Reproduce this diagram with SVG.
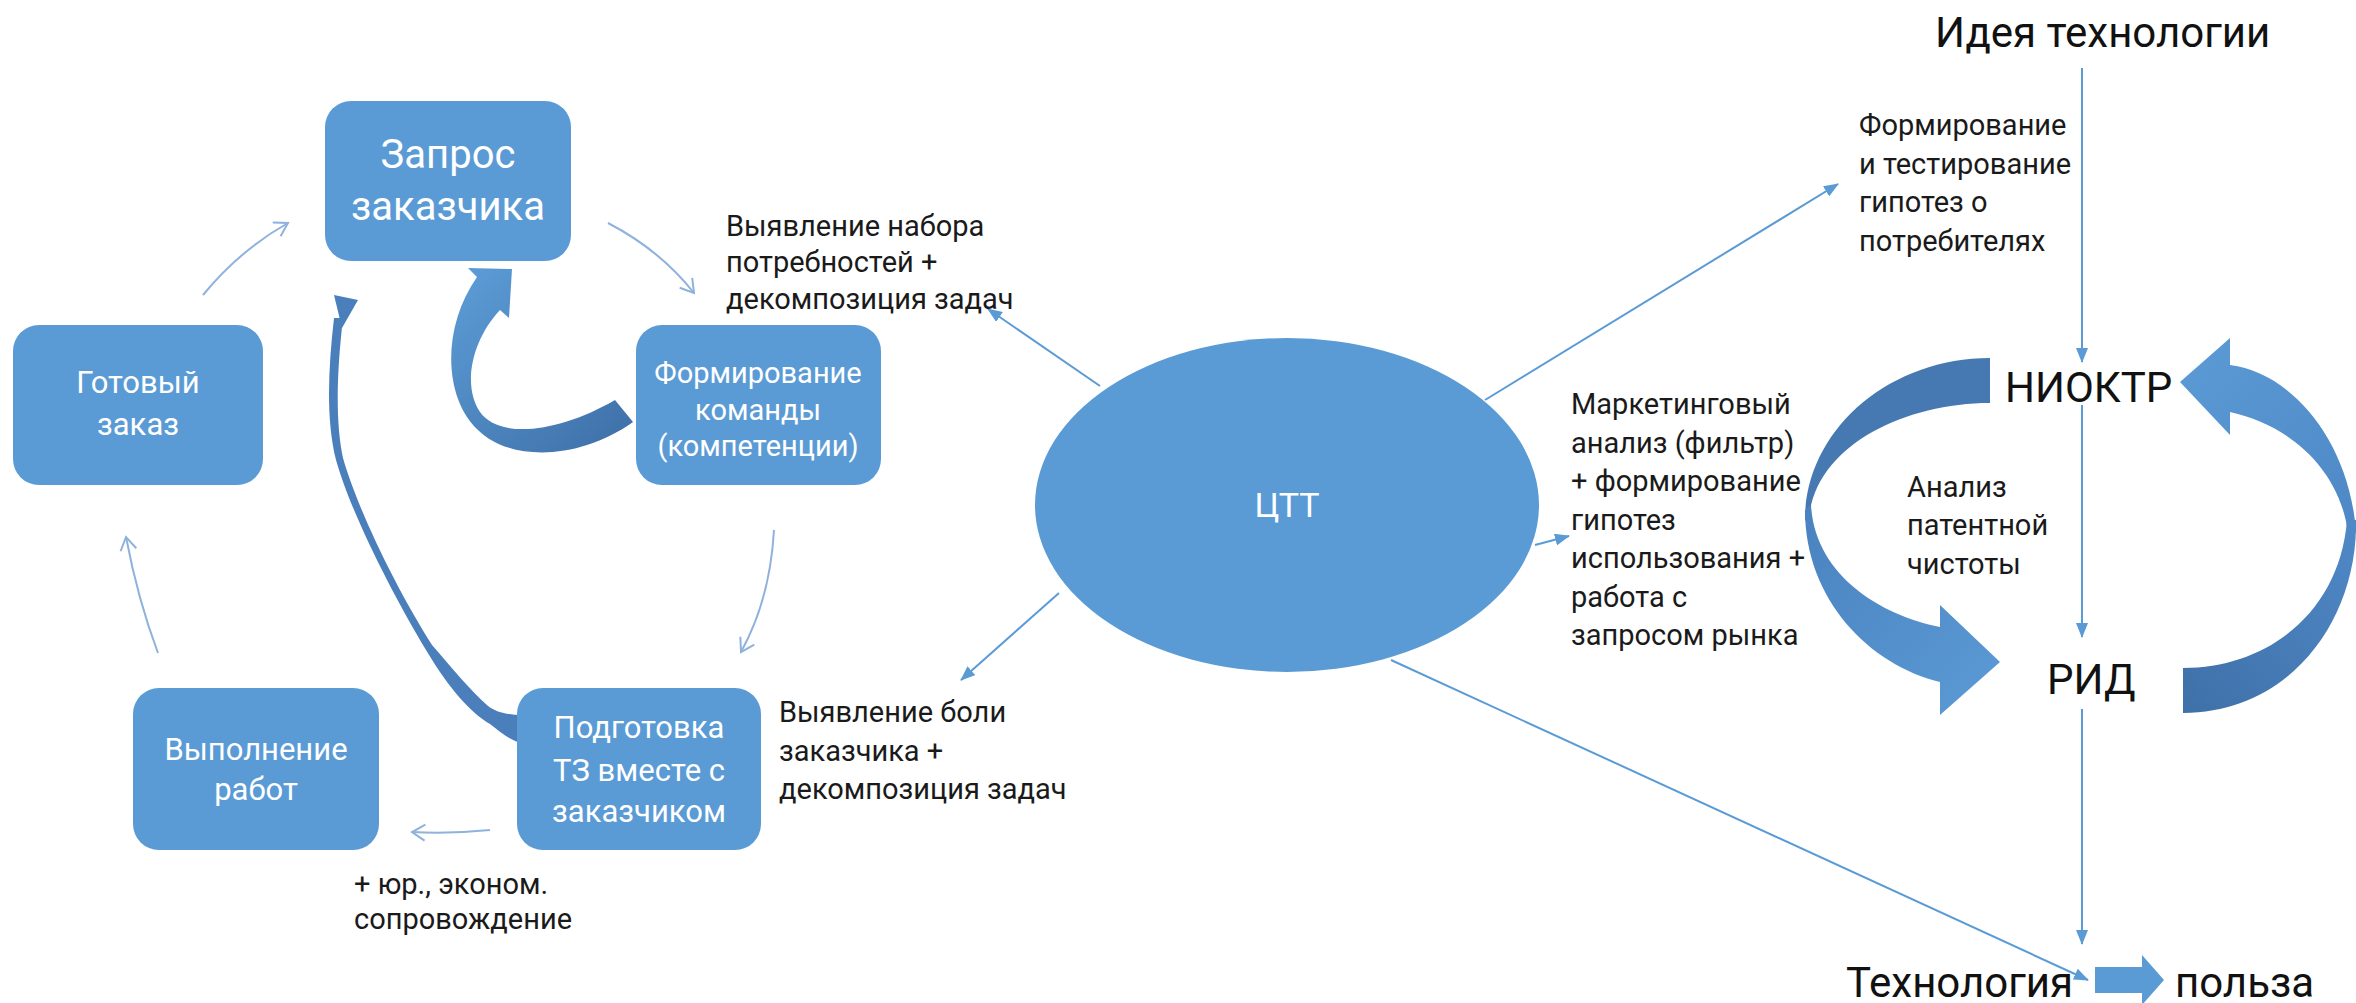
<svg xmlns="http://www.w3.org/2000/svg" width="2356" height="1003" viewBox="0 0 2356 1003">
<style>
.node{fill:#5b9bd5}
.nt{font-family:Roboto,"Liberation Sans",sans-serif;fill:#ffffff;text-anchor:middle}
.lbl{font-family:Roboto,"Liberation Sans",sans-serif;font-size:29px;fill:#1a1a1a}
.big{font-family:Roboto,"Liberation Sans",sans-serif;font-size:42px;fill:#111111}
.ln{fill:none;stroke:#5b9bd5;stroke-width:2;marker-end:url(#fh)}
.cyc{fill:none;stroke:#8fb2dc;stroke-width:2;marker-end:url(#oh)}
</style>
<defs>
<marker id="fh" markerWidth="16" markerHeight="12" refX="14" refY="6" orient="auto" markerUnits="userSpaceOnUse">
<path d="M0,0 L15,6 L0,12 Z" fill="#5b9bd5"/>
</marker>
<marker id="oh" markerWidth="20" markerHeight="20" refX="15" refY="10" orient="auto" markerUnits="userSpaceOnUse">
<path d="M2,2 L15,10 L2,18" fill="none" stroke="#8fb2dc" stroke-width="2"/>
</marker>
<linearGradient id="gA" x1="460" y1="280" x2="620" y2="450" gradientUnits="userSpaceOnUse">
<stop offset="0" stop-color="#5b9bd5"/><stop offset="1" stop-color="#3f70a8"/>
</linearGradient>
<linearGradient id="gFront" x1="0" y1="0" x2="1" y2="1">
<stop offset="0" stop-color="#4a82c0"/><stop offset="1" stop-color="#5b9bd5"/>
</linearGradient>
<linearGradient id="gR1" x1="0" y1="0" x2="1" y2="1">
<stop offset="0" stop-color="#5b9bd5"/><stop offset="1" stop-color="#4e88c6"/>
</linearGradient>
<linearGradient id="gR2" x1="1" y1="0" x2="0" y2="1">
<stop offset="0" stop-color="#4f89c7"/><stop offset="1" stop-color="#3f70a8"/>
</linearGradient>
</defs>

<g id="connectors">
<path class="cyc" d="M203,295 Q240,250 288,223"/>
<path class="cyc" d="M608,223 Q660,250 694,293"/>
<path class="cyc" d="M774,530 Q770,600 741,652"/>
<path class="cyc" d="M490,830 Q450,834 412,832"/>
<path class="cyc" d="M158,653 Q138,600 126,537"/>
<path class="ln" d="M1100,386 L988,309"/>
<path class="ln" d="M1485,400 L1838,184"/>
<path class="ln" d="M1535,545 L1569,536"/>
<path class="ln" d="M1059,593 L961,680"/>
<path class="ln" d="M1391,660 L2088,980"/>
<path class="ln" d="M2082,68 L2082,362"/>
<path class="ln" d="M2082,405 L2082,637"/>
<path class="ln" d="M2082,709 L2082,944"/>
<path d="M512,269 L509,318 L500,310 C472,340 462,385 480,412 C500,440 560,432 615,400 L633,422 C580,460 510,462 478,430 C445,400 440,330 477,277 L468,268 Z" fill="url(#gA)"/>
<path d="M334,318 C328,370 326,420 336,460 C350,510 390,590 426,650 C450,690 470,712 490,724 C500,732 510,740 518,742 L518,715 C505,714 496,712 488,706 C470,690 452,668 432,645 C396,588 358,510 343,458 C335,420 337,370 343,318 Z" fill="#4a7fbc"/>
<path d="M334,295 L358,300 L342,328 Z" fill="#4a7fbc"/>
<path d="M1990,358 L1990,403 C1900,403 1810,450 1809,524 L1805,520 C1805,431 1888,358 1990,358 Z" fill="#4678b2"/>
<path d="M1805,510 C1805,600 1870,665 1940,682 L1940,715 L2000,662 L1940,605 L1940,627 C1880,615 1815,575 1811,505 Z" fill="url(#gFront)"/>
<path d="M2180,382 L2230,338 L2230,365 C2290,372 2350,440 2356,533 L2348,533 C2340,470 2290,425 2230,412 L2230,435 Z" fill="url(#gR1)"/>
<path d="M2356,520 C2358,620 2290,713 2183,713 L2183,668 C2270,668 2340,610 2347,520 Z" fill="url(#gR2)"/>
<path d="M2095,967 L2142,967 L2142,955 L2164,980 L2142,1005 L2142,993 L2095,993 Z" fill="#5b9bd5"/>
</g>

<g id="n-zapros">
<rect class="node" x="325" y="101" width="246" height="160" rx="26"/>
<text class="nt" x="448" y="168" font-size="40">Запрос</text>
<text class="nt" x="448" y="220" font-size="40">заказчика</text>
</g>
<g id="n-gotovy">
<rect class="node" x="13" y="325" width="250" height="160" rx="26"/>
<text class="nt" x="138" y="393" font-size="31">Готовый</text>
<text class="nt" x="138" y="435" font-size="31">заказ</text>
</g>
<g id="n-formirovanie">
<rect class="node" x="636" y="325" width="245" height="160" rx="26"/>
<text class="nt" x="758" y="383" font-size="29">Формирование</text>
<text class="nt" x="758" y="420" font-size="29">команды</text>
<text class="nt" x="758" y="456" font-size="29">(компетенции)</text>
</g>
<g id="n-vypolnenie">
<rect class="node" x="133" y="688" width="246" height="162" rx="26"/>
<text class="nt" x="256" y="760" font-size="31">Выполнение</text>
<text class="nt" x="256" y="800" font-size="31">работ</text>
</g>
<g id="n-podgotovka">
<rect class="node" x="517" y="688" width="244" height="162" rx="26"/>
<text class="nt" x="639" y="738" font-size="31">Подготовка</text>
<text class="nt" x="639" y="781" font-size="31">ТЗ вместе с</text>
<text class="nt" x="639" y="822" font-size="31">заказчиком</text>
</g>
<g id="n-ctt">
<ellipse class="node" cx="1287" cy="505" rx="252" ry="167"/>
<text class="nt" x="1287" y="517" font-size="34">ЦТТ</text>
</g>

<g id="labels">
<text class="lbl" x="726" y="236">Выявление набора</text>
<text class="lbl" x="726" y="272">потребностей +</text>
<text class="lbl" x="726" y="309">декомпозиция задач</text>
<text class="lbl" x="779" y="722">Выявление боли</text>
<text class="lbl" x="779" y="761">заказчика +</text>
<text class="lbl" x="779" y="799">декомпозиция задач</text>
<text class="lbl" x="354" y="894">+ юр., эконом.</text>
<text class="lbl" x="354" y="929">сопровождение</text>
<text class="lbl" x="1859" y="135">Формирование</text>
<text class="lbl" x="1859" y="174">и тестирование</text>
<text class="lbl" x="1859" y="212">гипотез о</text>
<text class="lbl" x="1859" y="251">потребителях</text>
<text class="lbl" x="1571" y="414">Маркетинговый</text>
<text class="lbl" x="1571" y="453">анализ (фильтр)</text>
<text class="lbl" x="1571" y="491">+ формирование</text>
<text class="lbl" x="1571" y="530">гипотез</text>
<text class="lbl" x="1571" y="568">использования +</text>
<text class="lbl" x="1571" y="607">работа с</text>
<text class="lbl" x="1571" y="645">запросом рынка</text>
<text class="lbl" x="1907" y="497">Анализ</text>
<text class="lbl" x="1907" y="535">патентной</text>
<text class="lbl" x="1907" y="574">чистоты</text>
</g>
<g id="n-ideya"><text class="big" x="1935" y="47" font-size="44">Идея технологии</text></g>
<g id="n-nioktr"><text class="big" x="2005" y="402">НИОКТР</text></g>
<g id="n-rid"><text class="big" x="2047" y="694">РИД</text></g>
<g id="n-tech"><text class="big" x="1846" y="997">Технология</text></g>
<g id="n-polza"><text class="big" x="2175" y="997">польза</text></g>
</svg>
